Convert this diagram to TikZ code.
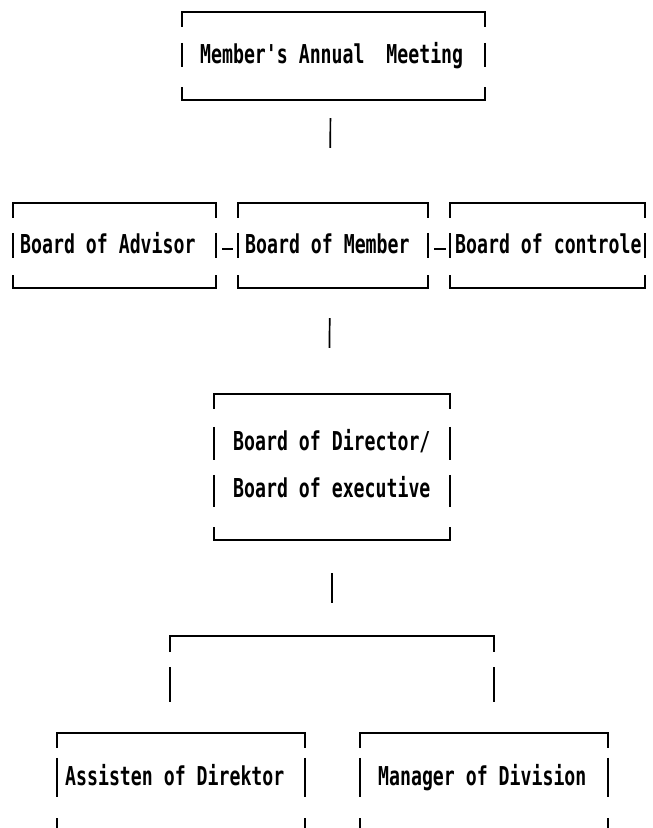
\documentclass[tikz,border=0pt]{standalone}
\usepackage{fontspec}
\newfontfamily\dotmatrix[FakeStretch=0.70]{DejaVu Sans Mono}
\usetikzlibrary{calc}

% frame pieces of a printed box: corners with short ticks, side bars per text line
\newcommand\dmtop[1]{\draw[dmline] ($(#1.north west)+(0,15)$) -- (#1.north west) -- (#1.north east) -- ($(#1.north east)+(0,15)$);}
\newcommand\dmbottom[1]{\draw[dmline] ($(#1.south west)+(0,-13)$) -- (#1.south west) -- (#1.south east) -- ($(#1.south east)+(0,-13)$);}
\newcommand\dmbars[3]{\draw[dmline] ($(#1.north west)+(0,#2)$) -- ($(#1.north west)+(0,#3)$) ($(#1.north east)+(0,#2)$) -- ($(#1.north east)+(0,#3)$);}

\tikzset{
  dmline/.style={line width=1.7pt, line cap=butt, black},
  dmtext/.style={font=\dotmatrix\bfseries\fontsize{26}{30}\selectfont, inner sep=0pt, anchor=base west},
  dmframe/.style={draw=none, inner sep=0pt},
}

\begin{document}
\begin{tikzpicture}[x=1pt,y=-1pt]
\clip (0,0) rectangle (653,828);
\fill[white] (0,0) rectangle (653,828);

% box outlines (invisible nodes carrying the geometry)
\node[dmframe, minimum width=303pt, minimum height=88pt] (M) at (333.5,56) {};
\node[dmframe, minimum width=203pt, minimum height=85pt] (A) at (114.5,245.5) {};
\node[dmframe, minimum width=190pt, minimum height=85pt] (B) at (333,245.5) {};
\node[dmframe, minimum width=195pt, minimum height=85pt] (C) at (547.5,245.5) {};
\node[dmframe, minimum width=236pt, minimum height=146pt] (D) at (332,467) {};
\node[dmframe, minimum width=248pt, minimum height=98pt] (S) at (181,782) {};
\node[dmframe, minimum width=248pt, minimum height=98pt] (G) at (484,782) {};

% texts
\node[dmtext] (Mt) at (200,63) {Member's Annual\ \ Meeting};
\node[dmtext] (At) at (20,253) {Board of Advisor};
\node[dmtext] (Bt) at (245,253) {Board of Member};
\node[dmtext] (Ct) at (455,253) {Board of controle};
\node[dmtext] (Dt1) at (233,450) {Board of Director/};
\node[dmtext] (Dt2) at (233,497) {Board of executive};
\node[dmtext] (St) at (65,785) {Assisten of Direktor};
\node[dmtext] (Gt) at (378,785) {Manager of Division};

% frames
\dmtop{M} \dmbars{M}{31}{55} \dmbottom{M}
\dmtop{A} \dmbars{A}{30}{55} \dmbottom{A}
\dmtop{B} \dmbars{B}{30}{55} \dmbottom{B}
\dmtop{C} \dmbars{C}{30}{55} \dmbottom{C}
\dmtop{D} \dmbars{D}{33}{66} \dmbars{D}{81}{113} \dmbottom{D}
\dmtop{S} \dmbars{S}{25}{64} \dmbottom{S}
\dmtop{G} \dmbars{G}{25}{64} \dmbottom{G}

% connectors
\draw[dmline, shorten <=18pt, shorten >=55pt] ($(M.south)+(-3,0)$) -- ($(B.north)+(-3,0)$);
\draw[dmline, shorten <=6pt, shorten >=5pt] ($(A.east)+(0,3.5)$) -- ($(B.west)+(0,3.5)$);
\draw[dmline, shorten <=6pt, shorten >=4pt] ($(B.east)+(0,3.5)$) -- ($(C.west)+(0,3.5)$);
\draw[dmline, shorten <=30pt, shorten >=46pt] ($(B.south)+(-3,0)$) -- ($(D.north)+(-3,0)$);

\coordinate (forkL) at (170,636);
\coordinate (forkR) at (494,636);
\draw[dmline, shorten <=33pt, shorten >=33pt] (D.south) -- (D.south |- forkL);
\draw[dmline] ($(forkL)+(0,16)$) -- (forkL) -- (forkR) -- ($(forkR)+(0,16)$);
\draw[dmline, shorten <=31pt, shorten >=31pt] (forkL) -- (forkL |- S.north);
\draw[dmline, shorten <=31pt, shorten >=31pt] (forkR) -- (forkR |- G.north);
\end{tikzpicture}
\end{document}
